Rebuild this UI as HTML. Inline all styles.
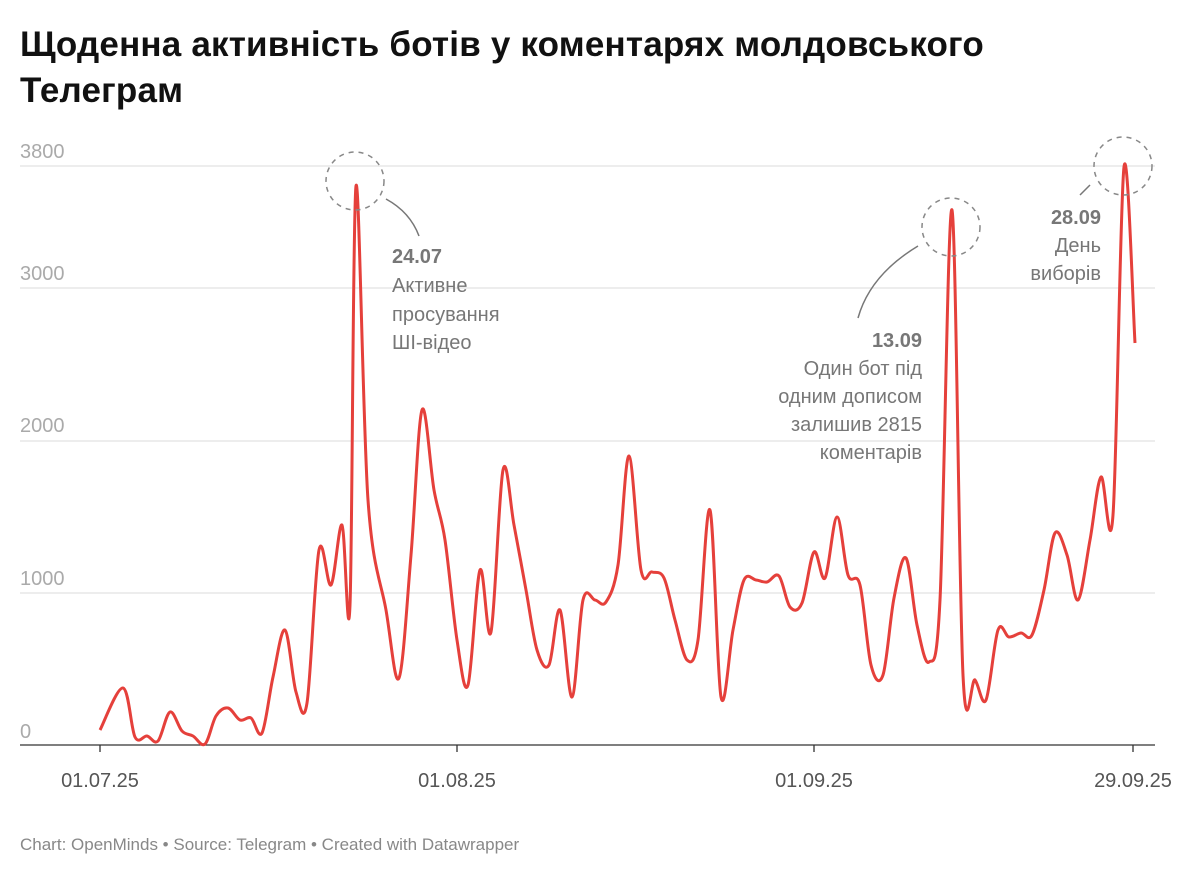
<!DOCTYPE html>
<html><head><meta charset="utf-8"><style>
body{margin:0;background:#fff;width:1200px;height:878px;overflow:hidden;font-family:"Liberation Sans",sans-serif}
h1{position:absolute;left:20px;top:22px;margin:0;font-size:35px;line-height:46px;font-weight:bold;color:#111;letter-spacing:0.2px;width:1050px}
.foot{position:absolute;left:20px;top:835px;font-size:17px;color:#888}
</style></head><body>
<h1>Щоденна активність ботів у коментарях молдовського Телеграм</h1>
<svg width="1200" height="878" style="position:absolute;left:0;top:0">
<g stroke="#e2e2e2" stroke-width="1.3">
<line x1="20" x2="1155" y1="166" y2="166"/><line x1="20" x2="1155" y1="288" y2="288"/>
<line x1="20" x2="1155" y1="441" y2="441"/><line x1="20" x2="1155" y1="593" y2="593"/>
</g>
<line x1="20" x2="1155" y1="745" y2="745" stroke="#333" stroke-width="1.3"/>
<g fill="#aaa" font-size="20">
<text x="20" y="158">3800</text><text x="20" y="280">3000</text><text x="20" y="432">2000</text><text x="20" y="585">1000</text><text x="20" y="738">0</text>
</g>
<g stroke="#333" stroke-width="1.3"><line x1="100" x2="100" y1="745" y2="752"/><line x1="457" x2="457" y1="745" y2="752"/><line x1="814" x2="814" y1="745" y2="752"/><line x1="1133" x2="1133" y1="745" y2="752"/></g>
<g fill="#555" font-size="20" text-anchor="middle">
<text x="100" y="787">01.07.25</text><text x="457" y="787">01.08.25</text><text x="814" y="787">01.09.25</text><text x="1133" y="787">29.09.25</text>
</g>
<path id="ln" fill="none" stroke="#e5403b" stroke-width="3" stroke-linejoin="round"/>
<g fill="none" stroke="#888" stroke-width="1.5" stroke-dasharray="5,5">
<circle cx="355" cy="181" r="29"/><circle cx="951" cy="227" r="29"/><circle cx="1123" cy="166" r="29"/>
</g>
<g fill="none" stroke="#777" stroke-width="1.5">
<path d="M386,199 Q410,212 419,236"/><path d="M918,246 Q870,275 858,318"/><path d="M1090,185 L1080,195"/>
</g>
<g fill="#777" font-size="20">
<text x="392" y="263" font-weight="bold">24.07</text>
<text x="392" y="292">Активне</text><text x="392" y="321">просування</text><text x="392" y="349">ШІ-відео</text>
<g text-anchor="end">
<text x="922" y="347" font-weight="bold">13.09</text>
<text x="922" y="375">Один бот під</text><text x="922" y="403">одним дописом</text><text x="922" y="431">залишив 2815</text><text x="922" y="459">коментарів</text>
<text x="1101" y="224" font-weight="bold">28.09</text>
<text x="1101" y="252">День</text><text x="1101" y="280">виборів</text>
</g></g>
</svg>
<div class="foot">Chart: OpenMinds • Source: Telegram • Created with Datawrapper</div>
<script>
var p=[[100,730],[123,688],[135,737],[147,736],[158,741],[170,712],[182,731],[193,736],[205,744],[216,716],[228,708],[240,720],[251,718],[262,733],[273,677],[285,630],[296,692],[307,703],[319,550],[331,585],[342,525],[350,605],[356,186],[368,500],[386,610],[399,678],[411,555],[422,410],[434,490],[445,540],[457,640],[468,685],[480,570],[491,632],[503,470],[514,525],[526,590],[537,650],[549,665],[560,610],[572,697],[583,600],[595,600],[606,602],[618,565],[629,456],[641,570],[652,572],[664,578],[675,620],[687,660],[698,640],[710,510],[721,697],[733,630],[744,580],[756,580],[767,582],[779,576],[790,607],[802,603],[814,552],[825,578],[837,517],[848,575],[860,585],[871,665],[883,675],[894,598],[906,558],[917,625],[929,662],[940,600],[952,210],[963,675],[975,680],[986,700],[998,630],[1009,637],[1021,633],[1032,635],[1044,590],[1055,533],[1067,555],[1078,600],[1090,540],[1101,477],[1113,515],[1124,167],[1135,343]];
var n=p.length;
var d="M"+p[0][0]+","+p[0][1];
for(var i=0;i<n-1;i++){var a=p[i-1]||p[i],b=p[i],c=p[i+1],e=p[i+2]||c;var t=6;
d+=" C"+(b[0]+(c[0]-a[0])/t)+","+(b[1]+(c[1]-a[1])/t)+" "+(c[0]-(e[0]-b[0])/t)+","+(c[1]-(e[1]-b[1])/t)+" "+c[0]+","+c[1];}
document.getElementById("ln").setAttribute("d",d);
</script>
</body></html>
